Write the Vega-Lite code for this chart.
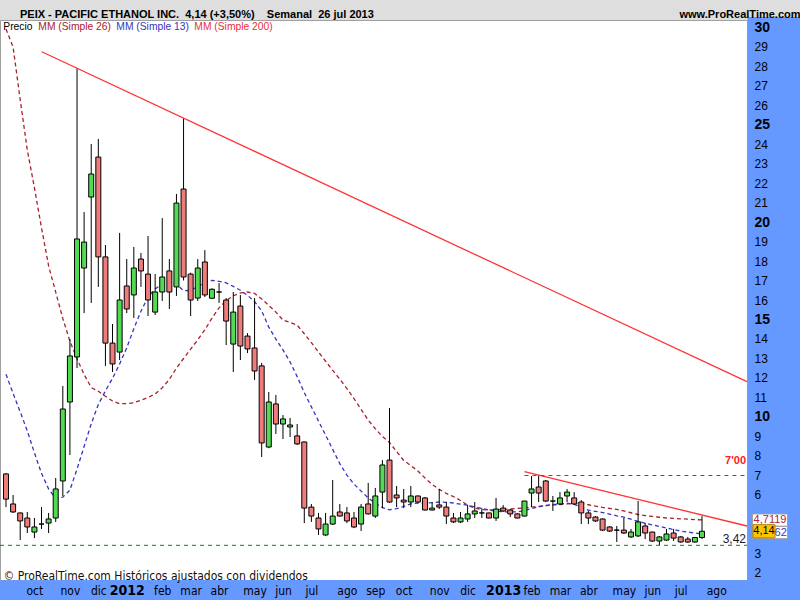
{
  "$schema": "https://vega.github.io/schema/vega-lite/v6.json",
  "width": 747,
  "height": 560,
  "autosize": {"type": "none"},
  "padding": {"left": 0, "top": 20, "right": 53, "bottom": 20},
  "background": "#dedede",
  "view": {"fill": "#ffffff", "stroke": "#a0a0a0", "strokeWidth": 1},
  "config": {
    "axis": {"labelOverlap": false, "labelSeparation": 0}
  },
  "title": {
    "text": "PEIX - PACIFIC ETHANOL INC.\u00a0\u00a04,14 (+3,50%)\u00a0\u00a0\u00a0\u00a0Semanal\u00a0\u00a026 jul 2013\u00a0\u00a0\u00a0\u00a0\u00a0\u00a0\u00a0\u00a0\u00a0\u00a0\u00a0\u00a0\u00a0\u00a0\u00a0\u00a0\u00a0\u00a0\u00a0\u00a0\u00a0\u00a0\u00a0\u00a0\u00a0\u00a0\u00a0\u00a0\u00a0\u00a0\u00a0\u00a0\u00a0\u00a0\u00a0\u00a0\u00a0\u00a0\u00a0\u00a0\u00a0\u00a0\u00a0\u00a0\u00a0\u00a0\u00a0\u00a0\u00a0\u00a0\u00a0\u00a0\u00a0\u00a0\u00a0\u00a0\u00a0\u00a0\u00a0\u00a0\u00a0\u00a0\u00a0\u00a0\u00a0\u00a0\u00a0\u00a0\u00a0\u00a0\u00a0\u00a0\u00a0\u00a0\u00a0\u00a0\u00a0\u00a0\u00a0\u00a0\u00a0\u00a0\u00a0\u00a0\u00a0\u00a0\u00a0\u00a0\u00a0\u00a0\u00a0\u00a0\u00a0\u00a0\u00a0\u00a0\u00a0\u00a0\u00a0\u00a0www.ProRealTime.com",
    "anchor": "start",
    "frame": "group",
    "orient": "top",
    "dx": 20,
    "offset": -12.5,
    "baseline": "alphabetic",
    "font": "Liberation Sans",
    "fontSize": 11,
    "fontWeight": "bold",
    "color": "#000000"
  },
  "datasets": {
    "w": [
      {"date":"2011-09-05","open":7.08,"high":7.12,"low":5.38,"close":5.79,"ma13":12.19,"ma26":29.9},
      {"date":"2011-09-12","open":5.54,"high":6.00,"low":5.08,"close":5.13,"ma13":11.21,"ma26":28.97},
      {"date":"2011-09-19","open":5.08,"high":5.10,"low":3.69,"close":4.67,"ma13":10.26,"ma26":26.27},
      {"date":"2011-09-26","open":4.82,"high":5.13,"low":4.05,"close":4.36,"ma13":9.29,"ma26":23.69},
      {"date":"2011-10-03","open":4.10,"high":4.82,"low":3.79,"close":4.36,"ma13":8.16,"ma26":21.76},
      {"date":"2011-10-10","open":4.51,"high":5.38,"low":4.26,"close":4.51,"ma13":7.11,"ma26":19.70},
      {"date":"2011-10-17","open":4.56,"high":5.08,"low":4.05,"close":4.77,"ma13":6.31,"ma26":17.75},
      {"date":"2011-10-24","open":4.82,"high":6.87,"low":4.62,"close":6.31,"ma13":5.82,"ma26":16.40},
      {"date":"2011-10-31","open":6.72,"high":11.59,"low":5.95,"close":10.41,"ma13":5.89,"ma26":15.05},
      {"date":"2011-11-07","open":10.77,"high":14.00,"low":8.05,"close":13.13,"ma13":6.25,"ma26":13.89},
      {"date":"2011-11-14","open":13.08,"high":27.90,"low":12.51,"close":19.13,"ma13":7.33,"ma26":12.98},
      {"date":"2011-11-21","open":17.64,"high":20.51,"low":15.33,"close":18.97,"ma13":8.49,"ma26":12.18},
      {"date":"2011-11-28","open":21.28,"high":24.00,"low":15.85,"close":22.46,"ma13":9.65,"ma26":11.51},
      {"date":"2011-12-05","open":23.33,"high":24.26,"low":16.67,"close":18.21,"ma13":10.64,"ma26":11.32},
      {"date":"2011-12-12","open":18.21,"high":18.82,"low":12.62,"close":13.79,"ma13":11.34,"ma26":11.06},
      {"date":"2011-12-19","open":13.79,"high":14.77,"low":12.31,"close":12.72,"ma13":11.98,"ma26":10.82},
      {"date":"2011-12-26","open":13.33,"high":19.44,"low":12.92,"close":16.00,"ma13":12.72,"ma26":10.68},
      {"date":"2012-01-02","open":16.72,"high":18.10,"low":15.33,"close":15.54,"ma13":13.55,"ma26":10.69},
      {"date":"2012-01-09","open":16.26,"high":18.72,"low":15.08,"close":17.64,"ma13":14.53,"ma26":10.73},
      {"date":"2012-01-16","open":18.10,"high":18.41,"low":16.67,"close":17.49,"ma13":15.42,"ma26":10.86},
      {"date":"2012-01-23","open":17.33,"high":19.28,"low":15.18,"close":16.00,"ma13":16.16,"ma26":11.00},
      {"date":"2012-01-30","open":15.38,"high":17.33,"low":15.23,"close":16.41,"ma13":16.56,"ma26":11.18},
      {"date":"2012-02-06","open":16.41,"high":20.20,"low":15.95,"close":17.18,"ma13":16.83,"ma26":11.50},
      {"date":"2012-02-13","open":17.49,"high":18.10,"low":15.54,"close":16.41,"ma13":16.94,"ma26":11.93},
      {"date":"2012-02-20","open":16.67,"high":21.44,"low":16.21,"close":20.97,"ma13":16.81,"ma26":12.51},
      {"date":"2012-02-27","open":21.69,"high":25.33,"low":17.00,"close":17.18,"ma13":16.48,"ma26":13.00},
      {"date":"2012-03-05","open":17.33,"high":17.40,"low":15.18,"close":16.00,"ma13":16.49,"ma26":13.48},
      {"date":"2012-03-12","open":16.10,"high":18.10,"low":15.95,"close":17.64,"ma13":16.69,"ma26":13.96},
      {"date":"2012-03-19","open":17.95,"high":18.56,"low":16.15,"close":16.26,"ma13":16.90,"ma26":14.47},
      {"date":"2012-03-26","open":16.09,"high":16.60,"low":16.05,"close":16.55,"ma13":17.01,"ma26":15.07},
      {"date":"2012-04-02","open":16.41,"high":16.87,"low":15.85,"close":16.41,"ma13":16.96,"ma26":15.60},
      {"date":"2012-04-09","open":16.00,"high":16.10,"low":13.69,"close":14.92,"ma13":16.88,"ma26":15.96},
      {"date":"2012-04-16","open":13.74,"high":16.41,"low":12.31,"close":15.38,"ma13":16.70,"ma26":16.22},
      {"date":"2012-04-23","open":15.69,"high":16.26,"low":12.92,"close":13.64,"ma13":16.50,"ma26":16.36},
      {"date":"2012-04-30","open":14.15,"high":14.30,"low":13.28,"close":13.49,"ma13":16.24,"ma26":16.41},
      {"date":"2012-05-07","open":13.54,"high":16.10,"low":11.90,"close":12.36,"ma13":15.92,"ma26":16.34},
      {"date":"2012-05-14","open":12.62,"high":12.77,"low":7.95,"close":8.67,"ma13":15.44,"ma26":16.05},
      {"date":"2012-05-21","open":8.46,"high":11.28,"low":8.40,"close":10.77,"ma13":14.61,"ma26":15.72},
      {"date":"2012-05-28","open":10.67,"high":11.13,"low":9.13,"close":9.64,"ma13":13.99,"ma26":15.38},
      {"date":"2012-06-04","open":9.64,"high":10.10,"low":8.87,"close":9.90,"ma13":13.44,"ma26":14.97},
      {"date":"2012-06-11","open":9.49,"high":9.95,"low":8.97,"close":9.59,"ma13":12.82,"ma26":14.85},
      {"date":"2012-06-18","open":9.03,"high":9.64,"low":8.56,"close":8.62,"ma13":12.07,"ma26":14.71},
      {"date":"2012-06-25","open":8.72,"high":8.74,"low":4.56,"close":5.33,"ma13":11.25,"ma26":14.27},
      {"date":"2012-07-02","open":5.38,"high":5.54,"low":4.62,"close":4.92,"ma13":10.52,"ma26":13.81},
      {"date":"2012-07-09","open":4.82,"high":5.08,"low":3.95,"close":4.26,"ma13":9.79,"ma26":13.33},
      {"date":"2012-07-16","open":3.95,"high":5.08,"low":3.90,"close":4.51,"ma13":9.07,"ma26":12.86},
      {"date":"2012-07-23","open":4.51,"high":6.77,"low":4.46,"close":4.92,"ma13":8.34,"ma26":12.39},
      {"date":"2012-07-30","open":5.13,"high":5.54,"low":4.90,"close":4.92,"ma13":7.61,"ma26":11.94},
      {"date":"2012-08-06","open":5.08,"high":5.38,"low":4.56,"close":4.67,"ma13":7.02,"ma26":11.46},
      {"date":"2012-08-13","open":4.82,"high":5.13,"low":4.30,"close":4.36,"ma13":6.56,"ma26":10.94},
      {"date":"2012-08-20","open":4.51,"high":5.54,"low":4.15,"close":5.38,"ma13":6.20,"ma26":10.39},
      {"date":"2012-08-27","open":5.54,"high":6.62,"low":5.00,"close":5.03,"ma13":5.85,"ma26":9.84},
      {"date":"2012-09-03","open":4.92,"high":6.36,"low":4.82,"close":5.95,"ma13":5.57,"ma26":9.40},
      {"date":"2012-09-10","open":6.15,"high":7.79,"low":5.33,"close":7.54,"ma13":5.35,"ma26":9.00},
      {"date":"2012-09-17","open":7.79,"high":10.46,"low":5.60,"close":5.64,"ma13":5.24,"ma26":8.69},
      {"date":"2012-09-24","open":6.00,"high":6.46,"low":5.38,"close":5.85,"ma13":5.30,"ma26":8.23},
      {"date":"2012-10-01","open":5.74,"high":6.31,"low":5.33,"close":5.64,"ma13":5.41,"ma26":7.77},
      {"date":"2012-10-08","open":5.64,"high":6.46,"low":5.38,"close":5.95,"ma13":5.55,"ma26":7.51},
      {"date":"2012-10-15","open":5.95,"high":5.97,"low":5.60,"close":5.64,"ma13":5.59,"ma26":7.23},
      {"date":"2012-10-22","open":5.85,"high":5.90,"low":5.20,"close":5.23,"ma13":5.59,"ma26":6.87},
      {"date":"2012-10-29","open":5.23,"high":5.64,"low":5.20,"close":5.33,"ma13":5.61,"ma26":6.54},
      {"date":"2012-11-05","open":5.49,"high":6.31,"low":5.28,"close":5.38,"ma13":5.64,"ma26":6.29},
      {"date":"2012-11-12","open":5.38,"high":5.64,"low":4.51,"close":4.92,"ma13":5.62,"ma26":6.08},
      {"date":"2012-11-19","open":4.82,"high":5.08,"low":4.56,"close":4.62,"ma13":5.59,"ma26":5.92},
      {"date":"2012-11-26","open":4.62,"high":5.13,"low":4.56,"close":4.82,"ma13":5.53,"ma26":5.72},
      {"date":"2012-12-03","open":4.77,"high":5.49,"low":4.62,"close":5.03,"ma13":5.48,"ma26":5.47},
      {"date":"2012-12-10","open":5.03,"high":5.64,"low":4.82,"close":5.18,"ma13":5.39,"ma26":5.33},
      {"date":"2012-12-17","open":5.08,"high":5.33,"low":4.82,"close":5.08,"ma13":5.31,"ma26":5.25},
      {"date":"2012-12-24","open":5.08,"high":5.10,"low":4.80,"close":4.82,"ma13":5.23,"ma26":5.23},
      {"date":"2012-12-31","open":4.82,"high":5.85,"low":4.67,"close":5.28,"ma13":5.17,"ma26":5.23},
      {"date":"2013-01-07","open":5.33,"high":5.49,"low":5.13,"close":5.18,"ma13":5.14,"ma26":5.26},
      {"date":"2013-01-14","open":5.23,"high":5.28,"low":4.87,"close":5.03,"ma13":5.13,"ma26":5.28},
      {"date":"2013-01-21","open":5.03,"high":5.08,"low":4.80,"close":4.82,"ma13":5.13,"ma26":5.31},
      {"date":"2013-01-28","open":4.92,"high":5.70,"low":4.90,"close":5.69,"ma13":5.20,"ma26":5.34},
      {"date":"2013-02-04","open":6.10,"high":6.97,"low":5.38,"close":6.31,"ma13":5.31,"ma26":5.38},
      {"date":"2013-02-11","open":6.41,"high":7.03,"low":5.64,"close":6.10,"ma13":5.39,"ma26":5.42},
      {"date":"2013-02-18","open":6.72,"high":6.77,"low":5.64,"close":5.69,"ma13":5.47,"ma26":5.45},
      {"date":"2013-02-25","open":5.69,"high":5.95,"low":5.18,"close":5.69,"ma13":5.51,"ma26":5.49},
      {"date":"2013-03-04","open":5.54,"high":6.15,"low":5.49,"close":5.85,"ma13":5.54,"ma26":5.51},
      {"date":"2013-03-11","open":5.95,"high":6.31,"low":5.64,"close":6.15,"ma13":5.58,"ma26":5.54},
      {"date":"2013-03-18","open":5.85,"high":6.15,"low":5.49,"close":5.54,"ma13":5.52,"ma26":5.57},
      {"date":"2013-03-25","open":5.64,"high":5.74,"low":4.51,"close":5.08,"ma13":5.38,"ma26":5.57},
      {"date":"2013-04-01","open":5.08,"high":5.18,"low":4.51,"close":4.82,"ma13":5.22,"ma26":5.50},
      {"date":"2013-04-08","open":4.87,"high":4.92,"low":4.62,"close":4.67,"ma13":5.16,"ma26":5.43},
      {"date":"2013-04-15","open":4.77,"high":4.80,"low":4.15,"close":4.20,"ma13":5.10,"ma26":5.36},
      {"date":"2013-04-22","open":4.36,"high":4.41,"low":4.10,"close":4.15,"ma13":5.02,"ma26":5.31},
      {"date":"2013-04-29","open":4.20,"high":4.41,"low":3.59,"close":4.20,"ma13":4.93,"ma26":5.26},
      {"date":"2013-05-06","open":4.20,"high":4.82,"low":4.00,"close":4.05,"ma13":4.86,"ma26":5.18},
      {"date":"2013-05-13","open":3.85,"high":4.26,"low":3.80,"close":4.10,"ma13":4.76,"ma26":5.09},
      {"date":"2013-05-20","open":3.90,"high":5.69,"low":3.85,"close":4.62,"ma13":4.65,"ma26":5.00},
      {"date":"2013-05-27","open":4.41,"high":4.56,"low":3.74,"close":4.05,"ma13":4.55,"ma26":4.94},
      {"date":"2013-06-03","open":4.10,"high":4.12,"low":3.59,"close":3.64,"ma13":4.47,"ma26":4.90},
      {"date":"2013-06-10","open":3.64,"high":3.90,"low":3.42,"close":3.85,"ma13":4.39,"ma26":4.86},
      {"date":"2013-06-17","open":3.69,"high":4.26,"low":3.64,"close":4.00,"ma13":4.31,"ma26":4.82},
      {"date":"2013-06-24","open":4.05,"high":4.26,"low":3.64,"close":3.79,"ma13":4.23,"ma26":4.80},
      {"date":"2013-07-01","open":3.85,"high":3.90,"low":3.55,"close":3.59,"ma13":4.15,"ma26":4.78},
      {"date":"2013-07-08","open":3.74,"high":3.85,"low":3.54,"close":3.59,"ma13":4.10,"ma26":4.76},
      {"date":"2013-07-15","open":3.59,"high":3.85,"low":3.55,"close":3.82,"ma13":4.05,"ma26":4.74},
      {"date":"2013-07-22","open":3.82,"high":4.92,"low":3.74,"close":4.14,"ma13":4.00,"ma26":4.72}
    ],
    "trend": [
      {"date":"2011-10-10T05:00:00Z","date2":"2013-09-04T08:24:00Z","p1":28.73,"p2":11.81},
      {"date":"2013-01-28","date2":"2013-09-04T08:24:00Z","p1":7.20,"p2":4.41}
    ],
    "lev": [
      {"date":"2011-08-30T02:04:00Z","date2":"2013-09-04T08:24:00Z","level":3.42,"label":"3,42"},
      {"date":"2013-01-28","date2":"2013-09-04T08:24:00Z","level":7.0,"label":"7'00"}
    ],
    "tags": [
      {"date":"2013-07-22","value":4.7119,"label":"4,7119","serie":"MM (Simple 26)"},
      {"date":"2013-07-22","value":4.0762,"label":"4,0762","serie":"MM (Simple 13)"},
      {"date":"2013-07-22","value":4.14,"label":"4,14","serie":"Precio"}
    ]
  },
  "encoding": {
    "x": {
      "field": "date",
      "type": "temporal",
      "scale": {
        "type": "utc",
        "padding": 0,
        "domain": [
          {"year": 2011, "month": 8, "date": 30, "hours": 2, "minutes": 4, "utc": true},
          {"year": 2013, "month": 9, "date": 4, "hours": 8, "minutes": 24, "utc": true}
        ]
      },
      "axis": {
        "orient": "bottom",
        "offset": 0,
        "domain": false,
        "ticks": true,
        "tickSize": 20,
        "tickWidth": 170,
        "tickColor": "#6699ff",
        "tickCap": "butt",
        "tickOpacity": 1,
        "tickCount": 100,
        "grid": false,
        "values": [
          {"year":2011,"month":10,"date":3,"utc":true},
          {"year":2011,"month":11,"date":7,"utc":true},
          {"year":2011,"month":12,"date":5,"utc":true},
          {"year":2012,"month":1,"date":2,"utc":true},
          {"year":2012,"month":2,"date":6,"utc":true},
          {"year":2012,"month":3,"date":5,"utc":true},
          {"year":2012,"month":4,"date":2,"utc":true},
          {"year":2012,"month":5,"date":7,"utc":true},
          {"year":2012,"month":6,"date":4,"utc":true},
          {"year":2012,"month":7,"date":2,"utc":true},
          {"year":2012,"month":8,"date":6,"utc":true},
          {"year":2012,"month":9,"date":3,"utc":true},
          {"year":2012,"month":10,"date":1,"utc":true},
          {"year":2012,"month":11,"date":5,"utc":true},
          {"year":2012,"month":12,"date":3,"utc":true},
          {"year":2013,"month":1,"date":7,"utc":true},
          {"year":2013,"month":2,"date":4,"utc":true},
          {"year":2013,"month":3,"date":4,"utc":true},
          {"year":2013,"month":4,"date":1,"utc":true},
          {"year":2013,"month":5,"date":6,"utc":true},
          {"year":2013,"month":6,"date":3,"utc":true},
          {"year":2013,"month":7,"date":1,"utc":true},
          {"year":2013,"month":8,"date":5,"utc":true}
        ],
        "labelExpr": "utcmonth(datum.value) == 0 ? '' + utcyear(datum.value) : ['ene','feb','mar','abr','may','jun','jul','ago','sep','oct','nov','dic'][utcmonth(datum.value)]",
        "labelBaseline": "middle",
        "labelAlign": "center",
        "labelPadding": -10,
        "labelFont": "Liberation Sans Narrow, DejaVu Sans Condensed, Liberation Sans",
        "labelFontSize": {"condition": {"test": "utcmonth(datum.value) == 0", "value": 14}, "value": 12},
        "labelFontWeight": {"condition": {"test": "utcmonth(datum.value) == 0", "value": "bold"}, "value": "normal"},
        "labelColor": "#000000",
        "labelFlush": false,
        "labelOverlap": false,
        "title": "© ProRealTime.com Históricos ajustados con dividendos",
        "titleX": 3,
        "titleY": -5,
        "titleAlign": "left",
        "titleAnchor": "start",
        "titleBaseline": "middle",
        "titleFont": "Liberation Sans Narrow, DejaVu Sans Condensed, Liberation Sans",
        "titleFontSize": 12,
        "titleFontWeight": "normal",
        "titleColor": "#111111"
      }
    }
  },
  "layer": [
    {
      "data": {"name": "w"},
      "mark": {"type": "line", "strokeDash": [4, 3], "strokeWidth": 1.3},
      "encoding": {
        "y": {
          "field": "ma26",
          "type": "quantitative",
          "scale": {"domain": [1.641, 30.359], "nice": false, "zero": false},
          "axis": {
            "orient": "right",
            "offset": 0,
            "domain": false,
            "ticks": true,
            "tickSize": 53,
            "tickWidth": 21,
            "tickColor": "#6699ff",
            "tickCap": "butt",
            "tickOpacity": 1,
            "tickCount": 100,
            "grid": false,
            "values": [2,3,4,5,6,7,8,9,10,11,12,13,14,15,16,17,18,19,20,21,22,23,24,25,26,27,28,29,30],
            "labelExpr": "datum.value == 4 || datum.value == 5 ? '' : format(datum.value, 'd')",
            "labelPadding": -46,
            "labelAlign": "left",
            "labelBaseline": "middle",
            "labelFont": "Liberation Sans",
            "labelColor": "#000000",
            "labelFontSize": {"condition": {"test": "datum.value % 5 == 0", "value": 14}, "value": 12},
            "labelFontWeight": {"condition": {"test": "datum.value % 5 == 0", "value": "bold"}, "value": "normal"},
            "labelOverlap": false,
            "labelFlush": false,
            "title": null
          }
        },
        "color": {
          "datum": "MM (Simple 26)",
          "type": "nominal",
          "scale": {
            "domain": ["Precio", "MM (Simple 26)", "MM (Simple 13)", "MM (Simple 200)"],
            "range": ["#000000", "#a8202c", "#3535c0", "#e8303c"]
          },
          "legend": {
            "orient": "none",
            "legendX": 2,
            "legendY": 2,
            "direction": "horizontal",
            "title": null,
            "padding": 0,
            "symbolSize": 0,
            "symbolStrokeWidth": 0,
            "symbolOpacity": 0,
            "labelOffset": -9,
            "columnPadding": 4,
            "labelFont": "Liberation Sans",
            "labelFontSize": 10.3,
            "labelColor": {"expr": "scale('color', datum.label)"}
          }
        }
      }
    },
    {
      "data": {"name": "w"},
      "mark": {"type": "line", "strokeDash": [4, 3], "strokeWidth": 1.3},
      "encoding": {
        "y": {"field": "ma13", "type": "quantitative"},
        "color": {"datum": "MM (Simple 13)", "type": "nominal"}
      }
    },
    {
      "data": {"name": "w"},
      "mark": {"type": "rule", "color": "#000000", "strokeWidth": 1},
      "encoding": {
        "y": {"field": "low", "type": "quantitative"},
        "y2": {"field": "high"}
      }
    },
    {
      "data": {"name": "w"},
      "mark": {"type": "bar", "width": 5, "stroke": "#000000", "strokeWidth": 1},
      "encoding": {
        "y": {"field": "open", "type": "quantitative"},
        "y2": {"field": "close"},
        "fill": {"condition": {"test": "datum.close > datum.open", "value": "#52da52"}, "value": "#ef7b7b"}
      }
    },
    {
      "data": {"name": "trend"},
      "mark": {"type": "rule", "color": "#ff3333", "strokeWidth": 1.3},
      "encoding": {
        "x2": {"field": "date2"},
        "y": {"field": "p1", "type": "quantitative"},
        "y2": {"field": "p2"}
      }
    },
    {
      "data": {"name": "lev"},
      "mark": {"type": "rule", "strokeDash": [4, 4], "strokeWidth": 1},
      "encoding": {
        "x2": {"field": "date2"},
        "y": {"field": "level", "type": "quantitative"},
        "color": {"condition": {"test": "datum.level > 5", "value": "#e02020"}, "value": "#108010"}
      }
    },
    {
      "data": {"name": "lev"},
      "transform": [{"filter": "datum.level > 5"}],
      "mark": {"type": "text", "align": "right", "baseline": "middle", "dx": -1, "dy": -14, "font": "Liberation Sans", "fontSize": 11, "fontWeight": "bold", "color": "#ff2020"},
      "encoding": {
        "x": {"field": "date2", "type": "temporal", "scale": {"type": "utc", "padding": 0}},
        "y": {"field": "level", "type": "quantitative"},
        "text": {"field": "label"}
      }
    },
    {
      "data": {"name": "lev"},
      "transform": [{"filter": "datum.level < 5"}],
      "mark": {"type": "text", "align": "right", "baseline": "middle", "dx": -1, "dy": -6, "font": "Liberation Sans", "fontSize": 12, "color": "#1a1a2a"},
      "encoding": {
        "x": {"field": "date2", "type": "temporal", "scale": {"type": "utc", "padding": 0}},
        "y": {"field": "level", "type": "quantitative"},
        "text": {"field": "label"}
      }
    },
    {
      "data": {"name": "tags"},
      "transform": [{"filter": "datum.serie != 'Precio'"}],
      "mark": {"type": "point", "shape": "M-1,-0.35H1V0.35H-1Z", "size": 1225, "filled": true, "fill": "#ffffff", "stroke": "#a0a0a0", "strokeWidth": 1, "opacity": 1, "xOffset": 68},
      "encoding": {"y": {"field": "value", "type": "quantitative"}}
    },
    {
      "data": {"name": "tags"},
      "transform": [{"filter": "datum.serie != 'Precio'"}],
      "mark": {"type": "text", "dx": 68, "align": "center", "baseline": "middle", "font": "Liberation Sans", "fontSize": 11},
      "encoding": {
        "y": {"field": "value", "type": "quantitative"},
        "text": {"field": "label"},
        "color": {"condition": {"test": "datum.serie == 'MM (Simple 26)'", "value": "#b0203c"}, "value": "#3535c0"}
      }
    },
    {
      "data": {"name": "tags"},
      "transform": [{"filter": "datum.serie == 'Precio'"}],
      "mark": {"type": "point", "shape": "M-1,-0.6H1V0.6H-1Z", "size": 484, "filled": true, "fill": "#ffc400", "stroke": "#b08000", "strokeWidth": 1, "opacity": 1, "xOffset": 62},
      "encoding": {"y": {"field": "value", "type": "quantitative"}}
    },
    {
      "data": {"name": "tags"},
      "transform": [{"filter": "datum.serie == 'Precio'"}],
      "mark": {"type": "text", "dx": 62, "align": "center", "baseline": "middle", "font": "Liberation Sans", "fontSize": 11, "color": "#000000"},
      "encoding": {
        "y": {"field": "value", "type": "quantitative"},
        "text": {"field": "label"}
      }
    }
  ]
}
